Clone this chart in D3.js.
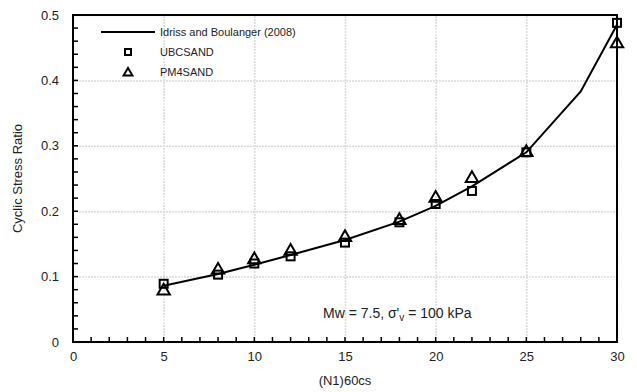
<!DOCTYPE html>
<html>
<head>
<meta charset="utf-8">
<script src="https://cdn.jsdelivr.net/npm/d3@7"></script>
<style>
  body { margin: 0; background: #fff; }
  svg { font-family: Arial, "Liberation Sans", sans-serif; }
</style>
</head>
<body>
<svg id="chart" width="637" height="392"></svg>
<script>
// Idriss and Boulanger (2008) curve
const curveN = [5, 8, 10, 12, 15, 18, 20, 22, 25, 28, 30];
const curveCSR = [0.086, 0.104, 0.118, 0.133, 0.156, 0.184, 0.208, 0.238, 0.290, 0.383, 0.485];

// UBCSAND points
const ubcN = [5, 8, 10, 12, 15, 18, 20, 22, 25, 30];
const ubcCSR = [0.089, 0.103, 0.120, 0.131, 0.152, 0.183, 0.211, 0.231, 0.290, 0.488];

// PM4SAND points
const pm4N = [5, 8, 10, 12, 15, 18, 20, 22, 25, 30];
const pm4CSR = [0.078, 0.110, 0.126, 0.139, 0.160, 0.186, 0.220, 0.250, 0.290, 0.456];

const xTicks = [0, 5, 10, 15, 20, 25, 30];
const yTicks = [0, 0.1, 0.2, 0.3, 0.4, 0.5];
const xMinor = d3.range(0, 31, 1);
const yMinor = d3.range(0, 26, 1).map(i => i * 0.02);

const margin = { top: 15, right: 20, bottom: 50, left: 73 };
const width = 637, height = 392;

const svg = d3.select("#chart");

const x = d3.scaleLinear().domain([0, 30]).range([margin.left, width - margin.right]);
const y = d3.scaleLinear().domain([0, 0.5]).range([height - margin.bottom, margin.top]);

// Grid lines
svg.append("g")
  .attr("transform", `translate(0,${height - margin.bottom})`)
  .call(d3.axisBottom(x).tickValues(xTicks).tickSize(-(height - margin.top - margin.bottom)).tickFormat(() => ""))
  .call(g => g.select(".domain").remove())
  .selectAll("line")
  .attr("stroke", "#dadada").attr("stroke-width", 1.5).attr("stroke-dasharray", "2,1");

svg.append("g")
  .attr("transform", `translate(${margin.left},0)`)
  .call(d3.axisLeft(y).tickValues(yTicks).tickSize(-(width - margin.left - margin.right)).tickFormat(() => ""))
  .call(g => g.select(".domain").remove())
  .selectAll("line")
  .attr("stroke", "#dadada").attr("stroke-width", 1.5).attr("stroke-dasharray", "2,1");

// Frame
svg.append("rect")
  .attr("x", margin.left).attr("y", margin.top)
  .attr("width", width - margin.left - margin.right)
  .attr("height", height - margin.top - margin.bottom)
  .attr("fill", "none").attr("stroke", "#000").attr("stroke-width", 2);

// Minor ticks (inward), drawn from the scales
svg.append("g").selectAll("line")
  .data(xMinor)
  .join("line")
  .attr("x1", d => x(d)).attr("x2", d => x(d))
  .attr("y1", y(0)).attr("y2", y(0) - 5)
  .attr("stroke", "#000").attr("stroke-width", 1.5);

svg.append("g").selectAll("line")
  .data(yMinor)
  .join("line")
  .attr("x1", x(0)).attr("x2", x(0) + 5)
  .attr("y1", d => y(d)).attr("y2", d => y(d))
  .attr("stroke", "#000").attr("stroke-width", 1.5);

// Tick labels
svg.append("g")
  .attr("transform", `translate(0,${height - margin.bottom})`)
  .call(d3.axisBottom(x).tickValues(xTicks).tickSize(0).tickPadding(10).tickFormat(d3.format("d")))
  .call(g => g.select(".domain").remove())
  .selectAll("text").attr("font-size", 13).attr("fill", "#222");

svg.append("g")
  .attr("transform", `translate(${margin.left},0)`)
  .call(d3.axisLeft(y).tickValues(yTicks).tickSize(0).tickPadding(14).tickFormat(d => d === 0 ? "0" : d3.format(".1f")(d)))
  .call(g => g.select(".domain").remove())
  .selectAll("text").attr("font-size", 13).attr("fill", "#222");

// Axis titles
svg.append("text")
  .attr("x", (margin.left + width - margin.right) / 2)
  .attr("y", 385)
  .attr("text-anchor", "middle").attr("font-size", 13).attr("fill", "#222")
  .text("(N1)60cs");

svg.append("text")
  .attr("transform", `translate(22,${(margin.top + height - margin.bottom) / 2}) rotate(-90)`)
  .attr("text-anchor", "middle").attr("font-size", 13).attr("fill", "#222")
  .text("Cyclic Stress Ratio");

// Curve
const line = d3.line().x(d => x(d[0])).y(d => y(d[1]));
svg.append("path")
  .datum(d3.zip(curveN, curveCSR))
  .attr("d", line)
  .attr("fill", "none").attr("stroke", "#000").attr("stroke-width", 2);

// UBCSAND squares
svg.append("g").selectAll("rect")
  .data(d3.zip(ubcN, ubcCSR))
  .join("rect")
  .attr("x", d => x(d[0]) - 4).attr("y", d => y(d[1]) - 4)
  .attr("width", 8).attr("height", 8)
  .attr("fill", "none").attr("stroke", "#000").attr("stroke-width", 2);

// PM4SAND triangles
const tri = d3.symbol().type(d3.symbolTriangle).size(66);
svg.append("g").selectAll("path")
  .data(d3.zip(pm4N, pm4CSR))
  .join("path")
  .attr("d", tri)
  .attr("transform", d => `translate(${x(d[0])},${y(d[1])})`)
  .attr("fill", "none").attr("stroke", "#000").attr("stroke-width", 2);

// Legend
const legend = svg.append("g").attr("font-size", 11).attr("fill", "#222");
legend.append("line")
  .attr("x1", 101).attr("x2", 155).attr("y1", 32).attr("y2", 32)
  .attr("stroke", "#000").attr("stroke-width", 2);
legend.append("text").attr("x", 160).attr("y", 36).text("Idriss and Boulanger (2008)");
legend.append("rect")
  .attr("x", 125).attr("y", 49).attr("width", 6).attr("height", 6)
  .attr("fill", "none").attr("stroke", "#000").attr("stroke-width", 2);
legend.append("text").attr("x", 160).attr("y", 56).text("UBCSAND");
legend.append("path")
  .attr("d", d3.symbol().type(d3.symbolTriangle).size(34))
  .attr("transform", "translate(128,73)")
  .attr("fill", "none").attr("stroke", "#000").attr("stroke-width", 2);
legend.append("text").attr("x", 160).attr("y", 76).text("PM4SAND");

// Annotation
const note = svg.append("text")
  .attr("x", 323).attr("y", 318)
  .attr("font-size", 14).attr("fill", "#222");
note.append("tspan").text("Mw = 7.5, σ'");
note.append("tspan").attr("font-size", 10).attr("dy", 3).text("v");
note.append("tspan").attr("dy", -3).text(" = 100 kPa");
</script>
</body>
</html>
